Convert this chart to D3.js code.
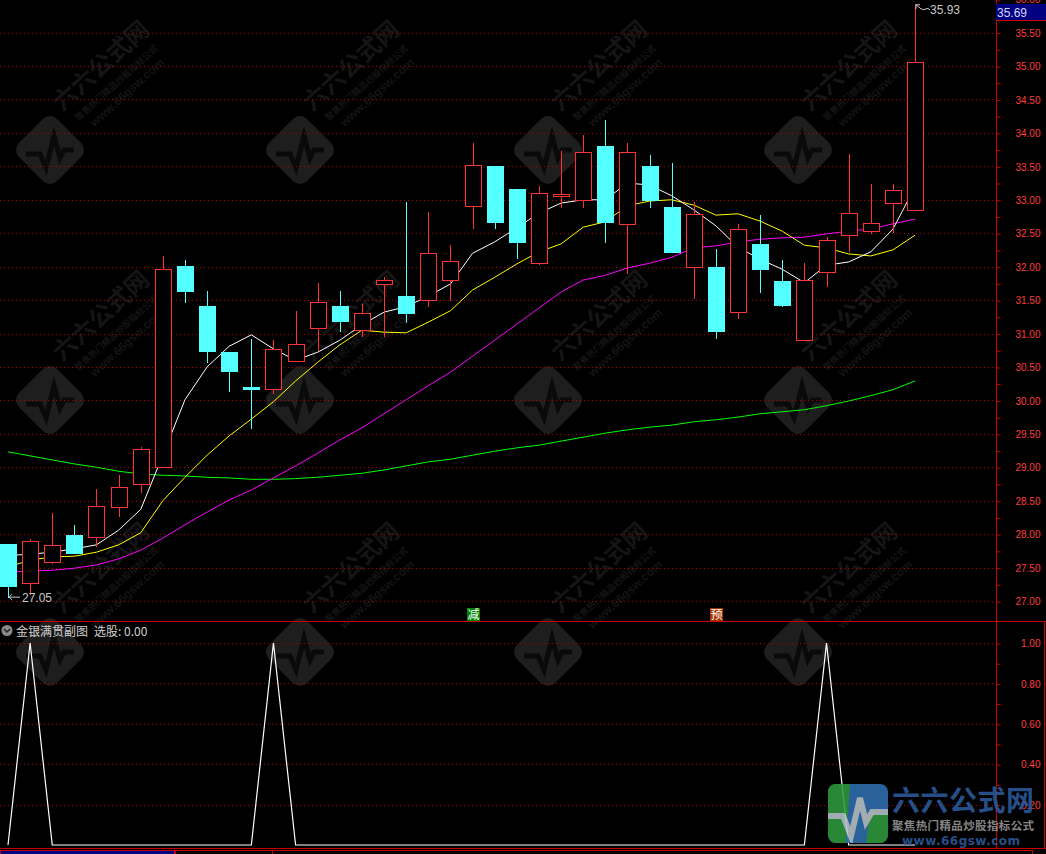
<!DOCTYPE html>
<html><head><meta charset="utf-8">
<script src="https://cdn.jsdelivr.net/npm/d3@7/dist/d3.min.js"></script>
<style>body{margin:0;background:#000;overflow:hidden}svg{display:block}</style>
</head><body>
<script>
// ---------------- DATA ----------------
const openP  = [27.85,27.27,27.59,27.99,27.96,28.41,28.745,29.00,32.01,31.41,30.72,30.19,30.17,30.59,31.08,31.41,31.05,31.74,31.56,31.50,31.80,32.91,33.50,33.16,32.05,33.05,33.00,33.80,32.63,33.50,32.89,31.99,31.99,31.32,32.34,31.79,30.91,31.92,32.48,32.53,32.95,32.85];
const highP  = [27.85,27.92,28.32,28.14,28.67,28.88,29.31,32.16,32.10,31.63,30.72,30.92,30.90,31.34,31.75,31.64,31.44,31.85,32.96,32.82,32.32,33.85,33.50,33.16,33.21,33.73,33.97,34.19,33.85,33.67,33.55,32.97,32.27,32.64,32.77,32.10,32.06,32.44,33.68,33.24,33.24,35.93];
const lowP   = [27.05,27.09,27.55,27.72,27.81,28.25,28.61,29.00,31.45,30.56,30.13,29.57,30.10,30.59,30.74,31.02,30.95,30.95,31.15,31.40,31.48,32.56,32.56,32.11,32.02,32.88,32.88,32.36,31.89,32.88,32.20,31.51,30.92,31.21,31.60,31.39,30.91,31.70,32.22,32.49,32.50,32.85];
const closeP = [27.22,27.89,27.84,27.72,28.42,28.70,29.28,31.97,31.63,30.74,30.44,30.19,30.77,30.85,31.47,31.18,31.30,31.80,31.30,32.20,32.09,33.52,32.66,32.37,33.10,33.09,33.72,32.66,33.72,32.99,32.22,32.79,31.03,32.56,31.96,31.42,31.80,32.40,32.80,32.65,33.14,35.06];
const ma5  = [27.68,27.70,27.73,27.78,27.84,28.06,28.37,29.18,30.01,30.50,30.81,30.98,30.77,30.60,30.72,30.90,31.13,31.32,31.40,31.56,31.74,32.20,32.37,32.58,32.80,32.95,33.00,33.00,33.25,33.22,33.06,32.85,32.61,32.29,32.11,31.96,31.76,32.02,32.07,32.22,32.56,33.19];
const ma10 = [27.51,27.61,27.66,27.67,27.73,27.84,28.02,28.50,28.85,29.18,29.47,29.72,29.98,30.29,30.57,30.83,31.05,31.02,31.01,31.17,31.34,31.65,31.84,32.04,32.22,32.34,32.59,32.67,32.91,32.98,33.00,32.92,32.77,32.79,32.68,32.53,32.32,32.28,32.19,32.16,32.25,32.47];
const ma20 = [27.43,27.45,27.46,27.49,27.54,27.63,27.76,27.94,28.14,28.33,28.51,28.66,28.84,29.02,29.21,29.41,29.59,29.80,30.01,30.22,30.42,30.66,30.90,31.14,31.38,31.62,31.80,31.87,31.98,32.05,32.14,32.28,32.31,32.37,32.41,32.43,32.44,32.49,32.53,32.56,32.64,32.71];
const ma60 = [29.23,29.17,29.11,29.05,29.00,28.94,28.90,28.88,28.87,28.85,28.84,28.82,28.82,28.83,28.85,28.88,28.91,28.96,29.02,29.08,29.12,29.18,29.24,29.29,29.33,29.39,29.45,29.51,29.56,29.60,29.63,29.68,29.71,29.75,29.80,29.83,29.86,29.92,29.99,30.07,30.16,30.29];
const signal = [0,1,0,0,0,0,0,0,0,0,0,0,1,0,0,0,0,0,0,0,0,0,0,0,0,0,0,0,0,0,0,0,0,0,0,0,0,1,0,0,0,0];
const priceTicks = [27,27.5,28,28.5,29,29.5,30,30.5,31,31.5,32,32.5,33,33.5,34,34.5,35,35.5,36];
const priceMinor = [27.25,27.75,28.25,28.75,29.25,29.75,30.25,30.75,31.25,31.75,32.25,32.75,33.25,33.75,34.25,34.75,35.25,35.75];
const subTicks = [0.2,0.4,0.6,0.8,1.0];
const subMinor = [0.1,0.3,0.5,0.7,0.9];
const markers = [{i:21,t:"减",c:"#008000"},{i:32,t:"预",c:"#a83000"}];
const highText = "35.93", lowText = "27.05", lastText = "35.69";
const subTitle = "金银满贯副图", subValue = "选股: 0.00";

// ---------------- CHART ----------------
const W = 1046, H = 854;
const svg = d3.select("body").append("svg").attr("width", W).attr("height", H);
svg.append("rect").attr("width", W).attr("height", H).attr("fill", "#000");

const N = closeP.length;
const x = d3.scaleLinear().domain([0, N - 1]).range([8, 915]);
const y = d3.scaleLinear().domain([27, 35]).range([601, 66]);
const ys = d3.scaleLinear().domain([0, 1]).range([845, 643]);
const px = v => Math.round(v) + 0.5;

// watermarks
const wm = svg.append("g");
const wmPos = [];
[50, 300, 548, 798].forEach(cx => [150, 400, 652].forEach(cy => wmPos.push([cx, cy])));
wmPos.forEach(([cx, cy]) => {
  const g = wm.append("g").attr("transform", `translate(${cx},${cy})`);
  g.append("rect").attr("x", -27).attr("y", -27).attr("width", 54).attr("height", 54).attr("rx", 10)
    .attr("transform", "rotate(45)").attr("fill", "#1e1e1e");
  g.append("path").attr("d", "M-24,4 L-10,4 L-4,18 L4,-14 L10,8 L14,0 L24,0")
    .attr("fill", "none").attr("stroke", "#0a0a0a").attr("stroke-width", 5);
  const t = g.append("g").attr("transform", "translate(12,-38) rotate(-42)");
  t.append("text").attr("x", 0).attr("y", 0).text("六六公式网")
    .attr("font-family", "'Noto Sans CJK SC'").attr("font-weight", "bold").attr("font-size", 24).attr("fill", "#151515");
  t.append("text").attr("x", 6).attr("y", 18).text("聚焦热门精品炒股指标公式")
    .attr("font-family", "'Noto Sans CJK SC'").attr("font-weight", "bold").attr("font-size", 9).attr("fill", "#151515");
  t.append("text").attr("x", 14).attr("y", 33).text("www.66gsw.com")
    .attr("font-family", "'Liberation Sans'").attr("font-weight", "bold").attr("font-size", 12).attr("fill", "#141414");
});

// grid lines
svg.append("g").selectAll("line").data(priceTicks.filter(d => d <= 35.5)).join("line")
  .attr("x1", 0).attr("x2", 996).attr("y1", d => px(y(d))).attr("y2", d => px(y(d)))
  .attr("stroke", "#b40000").attr("stroke-dasharray", "1,3");
svg.append("g").selectAll("line").data(subTicks).join("line")
  .attr("x1", 0).attr("x2", 996).attr("y1", d => px(ys(d))).attr("y2", d => px(ys(d)))
  .attr("stroke", "#b40000").attr("stroke-dasharray", "1,3");

// frame lines
const frame = svg.append("g").attr("stroke", "#c80000").attr("fill", "none");
frame.append("line").attr("x1", 996.5).attr("x2", 996.5).attr("y1", 0).attr("y2", 849);
frame.append("line").attr("x1", 0).attr("x2", W).attr("y1", 621.5).attr("y2", 621.5);
frame.append("line").attr("x1", 0).attr("x2", W).attr("y1", 848.5).attr("y2", 848.5);
frame.append("line").attr("x1", 1044.5).attr("x2", 1044.5).attr("y1", 622).attr("y2", 849);

// axes
function styleAxis(g, labels) {
  g.select(".domain").remove();
  g.selectAll("line").attr("stroke", "#c80000");
  if (labels) g.selectAll("text").attr("x", 44).attr("text-anchor", "end").attr("fill", "#ff3c3c");
}
svg.append("g").attr("transform", "translate(996.5,0.5)")
  .attr("font-family", "'Liberation Sans', Arial").attr("font-size", 12)
  .call(d3.axisRight(y).tickValues(priceTicks).tickSize(4).tickFormat(d3.format(".2f")))
  .call(g => styleAxis(g, true));
svg.append("g").attr("transform", "translate(996.5,0.5)")
  .call(d3.axisRight(y).tickValues(priceMinor).tickSize(4).tickFormat(""))
  .call(g => styleAxis(g, false));
svg.append("g").attr("transform", "translate(996.5,0.5)")
  .attr("font-family", "'Liberation Sans', Arial").attr("font-size", 12)
  .call(d3.axisRight(ys).tickValues(subTicks).tickSize(4).tickFormat(d3.format(".2f")))
  .call(g => styleAxis(g, true));
svg.append("g").attr("transform", "translate(996.5,0.5)")
  .call(d3.axisRight(ys).tickValues(subMinor).tickSize(4).tickFormat(""))
  .call(g => styleAxis(g, false));

// last price box
svg.append("rect").attr("x", 996).attr("y", 4).attr("width", 50).attr("height", 16).attr("fill", "#000080");
svg.append("line").attr("x1", 996).attr("x2", W).attr("y1", 20.5).attr("y2", 20.5).attr("stroke", "#c80000");
svg.append("text").attr("x", 997).attr("y", 17).text(lastText)
  .attr("font-family", "'Liberation Sans', Arial").attr("font-size", 12).attr("fill", "#d8d8ff");

// main clip
svg.append("clipPath").attr("id", "mainClip").append("rect").attr("x", 0).attr("y", 0).attr("width", 996).attr("height", 621);
const main = svg.append("g").attr("clip-path", "url(#mainClip)");

// moving averages
const line = d3.line().x((d, i) => x(i)).y(d => y(d));
[[ma60, "#00ff00"], [ma20, "#ff00ff"], [ma10, "#ffff00"], [ma5, "#ffffff"]].forEach(([arr, c]) => {
  main.append("path").datum(arr).attr("d", line).attr("fill", "none").attr("stroke", c).attr("stroke-width", 1);
});

// candles
const UP = "#ff3232", DN = "#54ffff";
const candles = main.append("g").selectAll("g").data(d3.range(N)).join("g");
candles.each(function (i) {
  const g = d3.select(this);
  const cx = px(x(i));
  const up = closeP[i] > openP[i];
  const col = up ? UP : DN;
  const top = Math.round(y(Math.max(openP[i], closeP[i])));
  const bot = Math.round(y(Math.min(openP[i], closeP[i])));
  const hi = Math.round(y(highP[i])), lo = Math.round(y(lowP[i]));
  if (up) {
    g.append("line").attr("x1", cx).attr("x2", cx).attr("y1", hi).attr("y2", top).attr("stroke", col);
    g.append("line").attr("x1", cx).attr("x2", cx).attr("y1", bot + 1).attr("y2", lo).attr("stroke", col);
    g.append("rect").attr("x", cx - 8).attr("y", top + 0.5).attr("width", 16).attr("height", Math.max(bot - top, 1))
      .attr("fill", "#000").attr("stroke", col);
  } else {
    g.append("line").attr("x1", cx).attr("x2", cx).attr("y1", hi).attr("y2", lo).attr("stroke", col);
    if (bot - top < 2) {
      g.append("rect").attr("x", cx - 8.5).attr("y", top - 1).attr("width", 17).attr("height", 3).attr("fill", col);
    } else {
      g.append("rect").attr("x", cx - 8.5).attr("y", top).attr("width", 17).attr("height", bot - top + 1).attr("fill", col);
    }
  }
});

// high / low markers
const hiIdx = d3.maxIndex(highP), loIdx = d3.minIndex(lowP);
const hx = x(hiIdx), hy = y(highP[hiIdx]);
main.append("path").attr("d", `M${hx + 1},${hy + 1} l4,0 M${hx + 1},${hy + 1} l0,4 M${hx + 1},${hy + 1} L${hx + 6},${hy + 5} q3,2 5,0 q2,-1 4,1`)
  .attr("fill", "none").attr("stroke", "#c8c8c8");
main.append("text").attr("x", hx + 15).attr("y", hy + 10).text(highText)
  .attr("font-family", "'Liberation Sans', Arial").attr("font-size", 12).attr("fill", "#c8c8c8");
const lx = x(loIdx), ly = y(lowP[loIdx]);
main.append("path").attr("d", `M${lx + 1},${ly - 0.5} L${lx + 12},${ly - 0.5} M${lx + 1},${ly - 0.5} l3,-3 M${lx + 1},${ly - 0.5} l3,3`)
  .attr("fill", "none").attr("stroke", "#c8c8c8");
main.append("text").attr("x", lx + 14).attr("y", ly + 4).text(lowText)
  .attr("font-family", "'Liberation Sans', Arial").attr("font-size", 12).attr("fill", "#c8c8c8");

// special markers
markers.forEach(m => {
  const cx = Math.round(x(m.i));
  svg.append("rect").attr("x", cx - 6).attr("y", 608).attr("width", 13).attr("height", 13).attr("fill", m.c);
  svg.append("text").attr("x", cx + 0.5).attr("y", 619).attr("text-anchor", "middle").text(m.t)
    .attr("font-family", "'Noto Sans CJK SC'").attr("font-size", 12).attr("fill", "#fff");
});

// sub chart
svg.append("clipPath").attr("id", "subClip").append("rect").attr("x", 0).attr("y", 622).attr("width", 996).attr("height", 226);
const sub = svg.append("g").attr("clip-path", "url(#subClip)");
sub.append("path").datum(signal).attr("d", d3.line().x((d, i) => x(i)).y(d => ys(d)))
  .attr("fill", "none").attr("stroke", "#fff").attr("stroke-width", 1.2);

// sub title
svg.append("circle").attr("cx", 7).attr("cy", 630.5).attr("r", 5.5).attr("fill", "#8a8a8a");
svg.append("path").attr("d", "M4,629 L7,632 L10,629").attr("fill", "none").attr("stroke", "#222").attr("stroke-width", 1.5);
svg.append("text").attr("x", 16).attr("y", 635.5).text(subTitle)
  .attr("font-family", "'Noto Sans CJK SC'").attr("font-size", 12).attr("fill", "#d0d0d0");
svg.append("text").attr("x", 94).attr("y", 635.5).text(subValue)
  .attr("font-family", "'Noto Sans CJK SC'").attr("font-size", 12).attr("fill", "#d0d0d0");

// status bar
svg.append("rect").attr("x", 0.5).attr("y", 850.5).attr("width", 174).attr("height", 6).attr("fill", "#000080").attr("stroke", "#c80000");
svg.append("rect").attr("x", 175.5).attr("y", 850.5).attr("width", 97).attr("height", 6).attr("fill", "none").attr("stroke", "#c80000");
svg.append("rect").attr("x", 272.5).attr("y", 850.5).attr("width", 760).attr("height", 6).attr("fill", "none").attr("stroke", "#c80000");

// corner logo
const logo = svg.append("g").attr("opacity", 0.88);
logo.append("clipPath").attr("id", "iconClip").append("rect").attr("x", 828).attr("y", 784).attr("width", 60).attr("height", 59).attr("rx", 8);
const ic = logo.append("g").attr("clip-path", "url(#iconClip)");
ic.append("rect").attr("x", 828).attr("y", 784).attr("width", 60).attr("height", 59).attr("fill", "#2f6fb0");
ic.append("path").attr("d", "M828,784 L850,784 L846,843 L828,843 Z").attr("fill", "#2e9b3e");
ic.append("path").attr("d", "M870,812 L888,812 L888,843 L866,843 Z").attr("fill", "#2e9b3e");
ic.append("path").attr("d", "M826,816 L843,816 L851,836 L860,798 L866,822 L872,812 L890,812")
  .attr("fill", "none").attr("stroke", "#b8c4cc").attr("stroke-width", 6);
logo.append("text").attr("x", 892).attr("y", 811).text("六六公式网").attr("textLength", 142)
  .attr("font-family", "'Noto Sans CJK SC'").attr("font-weight", "bold").attr("font-size", 28).attr("fill", "#2c5a9c");
logo.append("text").attr("x", 892).attr("y", 830).text("聚焦热门精品炒股指标公式").attr("textLength", 142)
  .attr("font-family", "'Noto Sans CJK SC'").attr("font-weight", "bold").attr("font-size", 11.5).attr("fill", "#9a9a9a");
logo.append("text").attr("x", 902).attr("y", 845).text("www.66gsw.com").attr("textLength", 118)
  .attr("font-family", "'DejaVu Sans'").attr("font-weight", "bold").attr("font-size", 12).attr("fill", "#2c5a9c");
</script>
</body></html>
